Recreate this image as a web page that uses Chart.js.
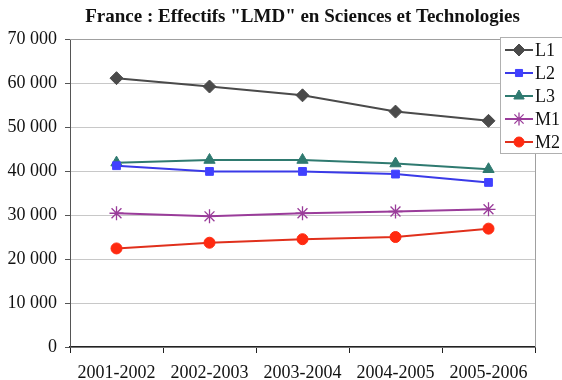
<!DOCTYPE html>
<html>
<head>
<meta charset="utf-8">
<script src="https://cdn.jsdelivr.net/npm/chart.js@4/dist/chart.umd.min.js"></script>
<style>
  html, body { margin: 0; padding: 0; background: #fff; }
  #wrap { width: 562px; height: 380px; position: relative; }
</style>
</head>
<body>
<div id="wrap"><canvas id="chart"></canvas></div>
<script>
const annees = ["2001-2002", "2002-2003", "2003-2004", "2004-2005", "2005-2006"];
const L1 = [61100, 59200, 57200, 53500, 51400];
const L2 = [41200, 39900, 39900, 39300, 37400];
const L3 = [41900, 42500, 42500, 41700, 40400];
const M1 = [30400, 29700, 30400, 30800, 31300];
const M2 = [22400, 23700, 24500, 25000, 26900];
const yTicks = [0, 10000, 20000, 30000, 40000, 50000, 60000, 70000];

const serif = "'Liberation Serif', 'Times New Roman', serif";

function serie(label, data, color, fill, style, radius) {
    return {
        label, data,
        borderColor: color,
        backgroundColor: fill,
        pointBorderColor: style === "star" ? color : fill,
        pointBackgroundColor: fill,
        pointStyle: style,
        pointRadius: radius,
        pointBorderWidth: style === "star" ? 1.3 : 1,
        borderWidth: 2,
        tension: 0
    };
}

const datasets = [
    serie("L1", L1, "#4a4a4a", "#4a4a4a", "rectRot", 6.5),
    serie("L2", L2, "#3a3ae8", "#4040ff", "rect", 5.5),
    serie("L3", L3, "#2f7a70", "#2f7a70", "triangle", 6.5),
    serie("M1", M1, "#9a3c9a", "#9a3c9a", "star", 7),
    serie("M2", M2, "#e0301c", "#ff2a10", "circle", 5.5)
];

// cadre gris (haut + droite) et légende encadrée par-dessus le graphique
const cadreLegende = {
    id: "cadreLegende",
    afterDatasetsDraw(chart) {
        const { ctx, chartArea: a } = chart;
        ctx.save();
        ctx.strokeStyle = "#a0a0a0";
        ctx.lineWidth = 1;
        ctx.beginPath();
        ctx.moveTo(a.left, a.top + 0.5);
        ctx.lineTo(a.right + 0.5, a.top + 0.5);
        ctx.lineTo(a.right + 0.5, a.bottom);
        ctx.stroke();

        // légende
        const x0 = 500.5, y0 = 37.5, h = 116;
        ctx.fillStyle = "#fff";
        ctx.fillRect(x0, y0, 70, h);
        ctx.strokeStyle = "#b0b0b0";
        ctx.strokeRect(x0, y0, 70, h);
        ctx.font = "18px " + serif;
        ctx.textBaseline = "middle";
        chart.data.datasets.forEach((ds, i) => {
            const y = y0 + 12.5 + i * 23;
            ctx.strokeStyle = ds.borderColor;
            ctx.lineWidth = 2;
            ctx.beginPath();
            ctx.moveTo(505, y);
            ctx.lineTo(533, y);
            ctx.stroke();
            ctx.fillStyle = ds.pointBackgroundColor;
            ctx.strokeStyle = ds.pointBorderColor;
            ctx.lineWidth = ds.pointBorderWidth;
            Chart.helpers.drawPoint(ctx, { pointStyle: ds.pointStyle, radius: ds.pointRadius - 0.5, borderWidth: ds.pointBorderWidth, rotation: 0 }, 519, y);
            ctx.fillStyle = "#111";
            ctx.fillText(ds.label, 535, y + 1);
        });
        ctx.restore();
    }
};

new Chart(document.getElementById("chart"), {
    type: "line",
    data: { labels: annees, datasets },
    plugins: [cadreLegende],
    options: {
        responsive: true,
        maintainAspectRatio: false,
        animation: false,
        layout: { padding: { top: 0, right: 27, bottom: 0, left: 0 } },
        plugins: {
            legend: { display: false },
            tooltip: { enabled: false },
            title: {
                display: true,
                fullSize: false,
                text: 'France : Effectifs "LMD" en Sciences et Technologies',
                color: "#111",
                font: { family: serif, size: 19, weight: "bold" },
                padding: { top: 5.6, bottom: 10.6 }
            }
        },
        scales: {
            x: {
                offset: true,
                afterFit: s => { s.height = 33; },
                grid: { offset: true, drawOnChartArea: false, color: "#222", tickLength: 6 },
                border: { color: "#222", width: 1.5 },
                ticks: { color: "#111", padding: 9, maxRotation: 0, font: { family: serif, size: 18 } }
            },
            y: {
                min: 0, max: 70000,
                afterFit: s => { s.width = 70; },
                afterBuildTicks: s => { s.ticks = yTicks.map(v => ({ value: v })); },
                grid: { color: "#c8c8c8", tickColor: "#555", tickLength: 5 },
                border: { color: "#555", width: 1 },
                ticks: {
                    color: "#111", padding: 8,
                    font: { family: serif, size: 18 },
                    callback: v => String(v).replace(/\B(?=(\d{3})+(?!\d))/g, " ")
                }
            }
        }
    }
});
</script>
</body>
</html>
